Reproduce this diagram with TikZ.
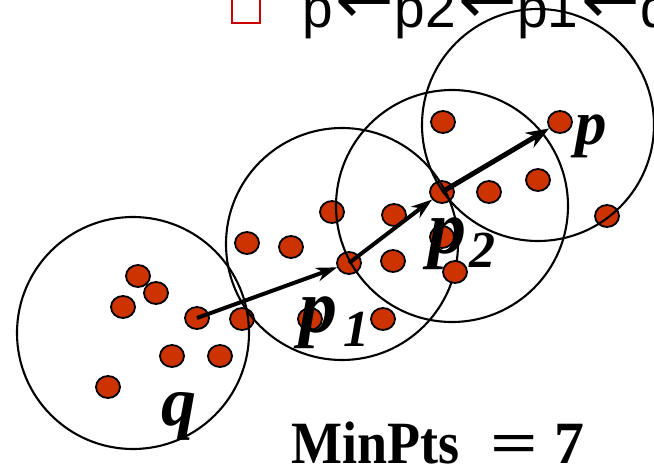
\documentclass[tikz,border=0pt]{standalone}
\usepackage{fontspec}
\usepackage{graphicx}
\setmainfont{Liberation Serif}
\newfontfamily\slidefont{Liberation Sans}
\newfontfamily\arrowfont{DejaVu Sans}
\usetikzlibrary{arrows.meta, shapes.geometric}
\definecolor{dotfill}{RGB}{204,51,0}
\definecolor{bulletred}{RGB}{204,0,0}
\tikzset{
  ptdot/.style={ellipse, draw=black, line width=1.8pt, fill=dotfill,
                minimum width=24pt, minimum height=22pt, inner sep=0pt},
  eps/.style={draw=black, line width=2.1pt},
  hop/.style={-{Stealth[length=21pt, width=14pt]}, line width=4pt},
  lasthop/.style={-{Stealth[length=23pt, width=17pt]}, line width=5pt},
  lbl/.style={anchor=base west, inner sep=0pt, font=\bfseries\itshape},
  sqbullet/.style={rectangle, draw=bulletred, line width=2.7pt, minimum size=28pt, inner sep=0pt}
}
\newcommand{\subsc}[1]{\raisebox{-14pt}{\fontsize{52}{52}\selectfont #1}}
\newcommand{\larr}{\kern3pt{\arrowfont\fontsize{70}{70}\selectfont\raisebox{4pt}{←}}}

\begin{document}
\begin{tikzpicture}[x=1pt, y=-1pt]
\useasboundingbox (0,0) rectangle (654,469);
\clip (0,0) rectangle (654,469);
% points
\node[ptdot] (q)  at (197,318) {};
\node[ptdot] (p1) at (349,263) {};
\node[ptdot] (p2) at (442,192) {};
\node[ptdot] (p)  at (560,122) {};
\node[ptdot] (a1) at (138,276) {};
\node[ptdot] (a2) at (156,293) {};
\node[ptdot] (a3) at (123,307) {};
\node[ptdot] (a4) at (242,319) {};
\node[ptdot] (a5) at (172,356) {};
\node[ptdot] (a6) at (220,356) {};
\node[ptdot] (a7) at (108,387) {};
\node[ptdot] (b1) at (247,243) {};
\node[ptdot] (b2) at (291,247) {};
\node[ptdot] (b3) at (332,212) {};
\node[ptdot] (b4) at (394,215) {};
\node[ptdot] (b5) at (393,261) {};
\node[ptdot] (b6) at (442,237) {};
\node[ptdot] (b7) at (383,319) {};
\node[ptdot] (b8) at (310,319) {};
\node[ptdot] (c1) at (443,122) {};
\node[ptdot] (c2) at (489,192) {};
\node[ptdot] (c3) at (538,180) {};
\node[ptdot] (c4) at (607,216) {};
% neighbourhoods
\draw[eps] (133,333) circle[radius=116pt];
\draw[eps] (342,244) circle[radius=116pt];
\draw[eps] (452,206) circle[radius=116pt];
\draw[eps] (538,125) circle[radius=116pt];
% chain
\draw[hop] (q.center) -- (p1);
\draw[hop] (p1.center) -- (p2);
\draw[lasthop] (p2.center) -- (p);
% labels
\node[lbl, font=\bfseries\itshape\fontsize{70}{72}\selectfont] (lq) at (161,425) {q};
\node[lbl, font=\bfseries\itshape\fontsize{76}{78}\selectfont] (lp1) at (299,332) {p\kern6pt\subsc{1}};
\node[lbl, font=\bfseries\itshape\fontsize{76}{78}\selectfont] (lp2) at (428,253) {p\kern3pt\subsc{2}};
\node[lbl, font=\bfseries\itshape\fontsize{63}{66}\selectfont] (lp) at (575,144) {p};
\node[ptdot] (b9) at (455,272) {};
\node[anchor=base west, inner sep=0pt, font=\bfseries\fontsize{60}{62}\selectfont] (minpts) at (291,463)
  {\scalebox{0.9}[1]{MinPts}\hspace{31pt}\scalebox{1.4}[1]{=}\hspace{16pt}7};
% slide line
\node[sqbullet] (bul) at (246,9) {};
\node[anchor=base west, inner sep=0pt, font=\slidefont\fontsize{55}{57}\selectfont] (chain) at (302,27)
  {p\larr p2\larr p1\larr q};
\end{tikzpicture}
\end{document}
